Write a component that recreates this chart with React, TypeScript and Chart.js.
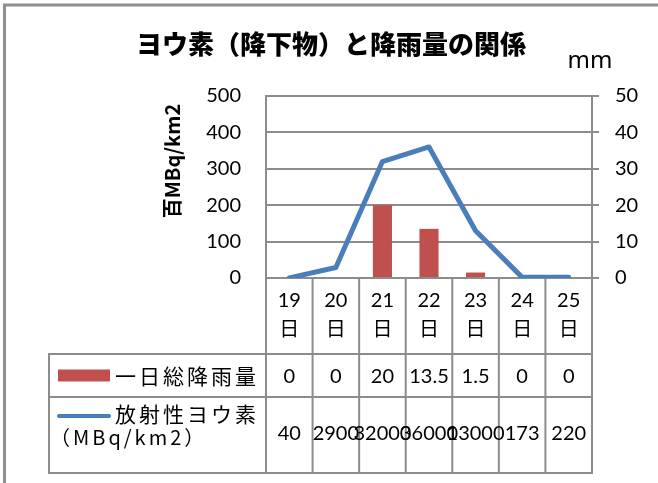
import React, { useEffect, useRef } from "react";
import { Chart, registerables } from "chart.js";

Chart.register(...registerables);

// ---- data ----
const days = ["19", "20", "21", "22", "23", "24", "25"];
const dayUnit = "日";
const rainfall = [0, 0, 20, 13.5, 1.5, 0, 0]; // mm
const rainfallText = ["0", "0", "20", "13.5", "1.5", "0", "0"];
const iodine = [40, 2900, 32000, 36000, 13000, 173, 220]; // MBq/km2
const iodineText = ["40", "2900", "32000", "36000", "13000", "173", "220"];
const leftAxis = { min: 0, max: 500, step: 100 }; // 百MBq/km2
const rightAxis = { min: 0, max: 50, step: 10 }; // mm

const titleText = "ヨウ素（降下物）と降雨量の関係";
const leftAxisTitle = "百MBq/km2";
const rightAxisTitle = "mm";
const rainName = "一日総降雨量";
const iodineName = ["放射性ヨウ素", "（MBq/km2）"];

// ---- style ----
const W = 658;
const H = 483;
const GRID = "#8c8c8c";
const RED = "#C0504D";
const BLUE = "#4A7EBB";
const NUM_FONT = "Lato, 'Noto Sans CJK JP', sans-serif";
const JP_FONT = "'Noto Sans CJK JP', sans-serif";

const tablePlugin = {
  id: "dataTable",
  afterDraw(chart: any) {
    const ctx: CanvasRenderingContext2D = chart.ctx;
    const area = chart.chartArea;
    const xs = chart.scales.x;
    const n = days.length;
    const colW = (area.right - area.left) / n;
    const headBottom = area.bottom + 76;
    const row1Bottom = headBottom + 43;
    const tableBottom = row1Bottom + 76;
    const legendLeft = 49;

    ctx.save();
    // outer border
    ctx.strokeStyle = "#8f8f8f";
    ctx.lineWidth = 3;
    ctx.strokeRect(4.5, 5, W + 20, H + 20);

    // table grid
    ctx.strokeStyle = GRID;
    ctx.lineWidth = 2;
    ctx.beginPath();
    for (let i = 0; i <= n; i++) {
      const px = i < n ? xs.getPixelForValue(i) - colW / 2 : xs.getPixelForValue(n - 1) + colW / 2;
      ctx.moveTo(px, area.bottom);
      ctx.lineTo(px, tableBottom);
    }
    ctx.moveTo(legendLeft, headBottom);
    ctx.lineTo(legendLeft, tableBottom);
    for (const y of [headBottom, row1Bottom, tableBottom]) {
      ctx.moveTo(legendLeft - 1, y);
      ctx.lineTo(area.right + 1, y);
    }
    ctx.stroke();

    // values
    ctx.fillStyle = "#000";
    ctx.textAlign = "center";
    ctx.textBaseline = "middle";
    ctx.font = `20px ${NUM_FONT}`;
    const r1 = (headBottom + row1Bottom) / 2 + 1;
    const r2 = (row1Bottom + tableBottom) / 2 - 1;
    for (let i = 0; i < n; i++) {
      const cx = xs.getPixelForValue(i);
      ctx.fillText(rainfallText[i], cx, r1);
      ctx.fillText(iodineText[i], cx, r2);
    }

    // legend keys
    ctx.fillStyle = RED;
    ctx.fillRect(58, r1 - 7, 52, 12);
    ctx.strokeStyle = BLUE;
    ctx.lineWidth = 4;
    ctx.lineCap = "round";
    ctx.beginPath();
    ctx.moveTo(59, row1Bottom + 19);
    ctx.lineTo(109, row1Bottom + 19);
    ctx.stroke();

    // legend texts
    ctx.fillStyle = "#000";
    ctx.textAlign = "left";
    ctx.font = `21px ${JP_FONT}`;
    (ctx as any).letterSpacing = "3px";
    ctx.fillText(rainName, 115, r1);
    ctx.fillText(iodineName[0], 115, row1Bottom + 17);
    (ctx as any).letterSpacing = "3px";
    ctx.font = `20px ${JP_FONT}`;
    ctx.fillText(iodineName[1], 50, row1Bottom + 40);
    (ctx as any).letterSpacing = "0px";

    // title
    ctx.textAlign = "center";
    ctx.font = `900 26px ${JP_FONT}`;
    ctx.fillText(titleText, 331, 44);

    // right axis unit
    ctx.font = `24px 'Noto Sans', sans-serif`;
    ctx.textBaseline = "alphabetic";
    ctx.fillText(rightAxisTitle, 590, 68);

    // left axis title
    ctx.translate(172, 161);
    ctx.rotate(-Math.PI / 2);
    ctx.textBaseline = "middle";
    ctx.font = `bold 20px ${JP_FONT}`;
    ctx.fillText(leftAxisTitle, 0, 0);
    ctx.restore();
  },
};

export default function App() {
  const ref = useRef<HTMLCanvasElement | null>(null);
  useEffect(() => {
    if (!ref.current) return;
    const chart = new Chart(ref.current, {
      type: "bar",
      data: {
        labels: days.map((d) => [d, dayUnit]),
        datasets: [
          {
            type: "line",
            label: iodineName.join(""),
            data: iodine.map((v) => v / 100),
            yAxisID: "y",
            borderColor: BLUE,
            borderWidth: 5,
            pointRadius: 0,
            borderCapStyle: "round",
            borderJoinStyle: "round",
            tension: 0,
            order: 0,
          } as any,
          {
            type: "bar",
            label: rainName,
            data: rainfall,
            yAxisID: "y1",
            backgroundColor: RED,
            barPercentage: 0.41,
            categoryPercentage: 1,
            order: 1,
          },
        ],
      },
      options: {
        responsive: false,
        animation: false,
        devicePixelRatio: 1,
        layout: { padding: { top: 96, left: 0, right: 0, bottom: 0 } },
        plugins: { legend: { display: false }, tooltip: { enabled: false } },
        scales: {
          x: {
            type: "category",
            offset: true,
            grid: { display: false, drawTicks: false },
            border: { display: false },
            ticks: {
              color: "#000",
              font: { family: NUM_FONT, size: 20, lineHeight: 1.45 },
              padding: 8,
              maxRotation: 0,
              autoSkip: false,
            },
            afterFit: (s: any) => {
              s.height = H - 278;
            },
          },
          y: {
            position: "left",
            min: leftAxis.min,
            max: leftAxis.max,
            ticks: {
              stepSize: leftAxis.step,
              color: "#000",
              font: { family: NUM_FONT, size: 20 },
              padding: 25,
            },
            grid: { color: GRID, lineWidth: 2, drawTicks: false },
            border: { display: true, color: GRID, width: 2 },
            afterFit: (s: any) => {
              s.width = 266;
            },
          },
          y1: {
            position: "right",
            min: rightAxis.min,
            max: rightAxis.max,
            ticks: {
              stepSize: rightAxis.step,
              color: "#000",
              font: { family: NUM_FONT, size: 20 },
              padding: 16,
            },
            grid: { drawOnChartArea: false, color: GRID, lineWidth: 2, tickLength: 7 },
            border: { display: true, color: GRID, width: 2 },
            afterFit: (s: any) => {
              s.width = W - 592;
            },
          },
        },
      },
      plugins: [tablePlugin],
    });
    return () => chart.destroy();
  }, []);
  return (
    <div style={{ position: "fixed", left: 0, top: 0, width: W, height: H, background: "#fff" }}>
      <canvas ref={ref} width={W} height={H} style={{ display: "block", width: W, height: H }} />
    </div>
  );
}
